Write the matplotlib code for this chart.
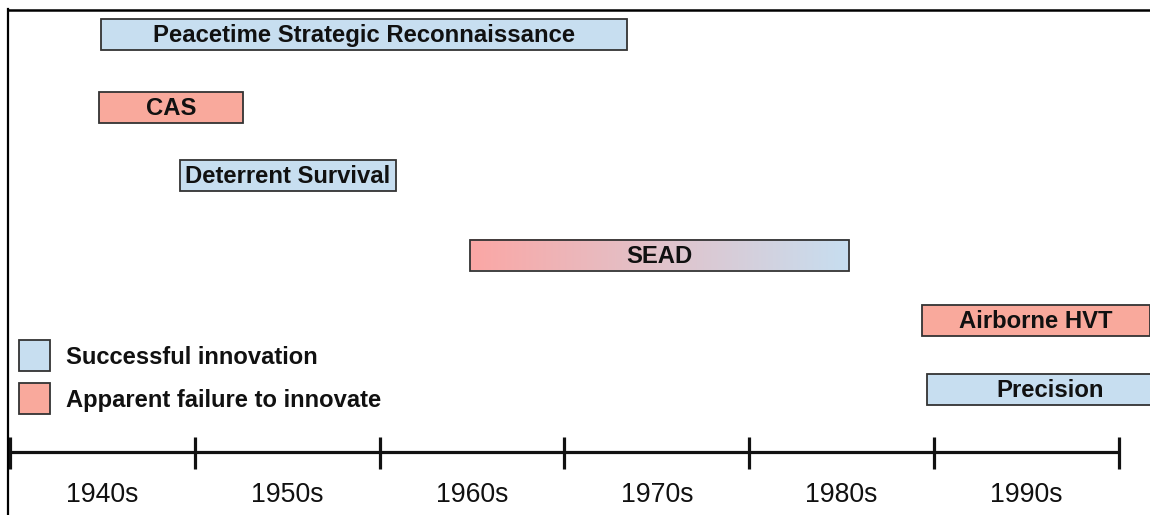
import matplotlib
matplotlib.use("Agg")
import matplotlib.pyplot as plt
import numpy as np
from matplotlib.colors import LinearSegmentedColormap
from matplotlib.patches import Rectangle
from matplotlib.lines import Line2D

# ---- data ----
labels = ["Peacetime Strategic Reconnaissance", "CAS", "Deterrent Survival",
          "SEAD", "Airborne HVT", "Precision"]
starts = [1944.9, 1944.8, 1949.2, 1964.9, 1989.35, 1989.6]
ends = [1973.4, 1952.6, 1960.9, 1985.4, 2001.7, 2003.0]
kinds = ["success", "failure", "success", "mixed", "failure", "success"]
decade_ticks = [1940, 1950, 1960, 1970, 1980, 1990, 2000]
decade_labels = ["1940s", "1950s", "1960s", "1970s", "1980s", "1990s"]
legend_labels = ["Successful innovation", "Apparent failure to innovate"]

# ---- style ----
BLUE = "#c7def0"
RED = "#f9a99c"
SEAD_LEFT = "#fba7a5"
EDGE = "#333333"
TXT = "#111111"
FONT = "Liberation Sans"

W, H = 1150, 515
fig = plt.figure(figsize=(W / 100, H / 100), dpi=100)
ax = fig.add_axes([0, 0, 1, 1])
px_per_year = 18.48
x0 = 1940 - 10 / px_per_year
ax.set_xlim(x0, x0 + W / px_per_year)
ax.set_ylim(H, 0)
ax.axis("off")

row_centers = [34, 107, 175, 255, 320, 389]
bar_h = 31

for lab, s, e, k, yc in zip(labels, starts, ends, kinds, row_centers):
    top = yc - bar_h / 2
    if k == "mixed":
        cmap = LinearSegmentedColormap.from_list("g", [SEAD_LEFT, BLUE])
        grad = np.linspace(0, 1, 256).reshape(1, -1)
        ax.imshow(grad, cmap=cmap, aspect="auto",
                  extent=[s, e, top + bar_h, top], zorder=2, interpolation="bilinear")
        ax.add_patch(Rectangle((s, top), e - s, bar_h, facecolor="none",
                               edgecolor=EDGE, lw=1.3, zorder=3))
    else:
        fc = BLUE if k == "success" else RED
        ax.add_patch(Rectangle((s, top), e - s, bar_h, facecolor=fc,
                               edgecolor=EDGE, lw=1.3, zorder=3))
    ax.text((s + e) / 2, yc + 1.5, lab, ha="center", va="center", fontsize=17.2,
            fontweight="bold", family=FONT, color=TXT, zorder=4)

# restore limits after imshow
ax.set_xlim(x0, x0 + W / px_per_year)
ax.set_ylim(H, 0)

# timeline
ax.plot([decade_ticks[0], decade_ticks[-1]], [452, 452], color="#111111", lw=2.3,
        zorder=2, solid_capstyle="butt")
for t in decade_ticks:
    ax.plot([t, t], [437, 469], color="#111111", lw=2.3, zorder=2, solid_capstyle="butt")
for i, lab in enumerate(decade_labels):
    ax.text((decade_ticks[i] + decade_ticks[i + 1]) / 2, 495, lab, ha="center",
            va="center", fontsize=19.2, family=FONT, color="#111111")

# legend (figure pixel coordinates)
for i, (lab, fc) in enumerate(zip(legend_labels, [BLUE, RED])):
    ytop = 340 + i * 43
    fig.patches.append(Rectangle((19 / W, 1 - (ytop + 31) / H), 31 / W, 31 / H,
                                 transform=fig.transFigure, facecolor=fc,
                                 edgecolor=EDGE, lw=1.3))
    fig.text(66 / W, 1 - (ytop + 17) / H, lab, ha="left", va="center",
             fontsize=17.1, fontweight="bold", family=FONT, color=TXT)

# frame lines (left and top)
fig.add_artist(Line2D([8 / W, 8 / W], [0, 1 - 9 / H], transform=fig.transFigure,
                      color="black", lw=1.6))
fig.add_artist(Line2D([7.5 / W, 1], [1 - 10 / H, 1 - 10 / H], transform=fig.transFigure,
                      color="black", lw=1.8))

fig.savefig("out.png", dpi=100)
